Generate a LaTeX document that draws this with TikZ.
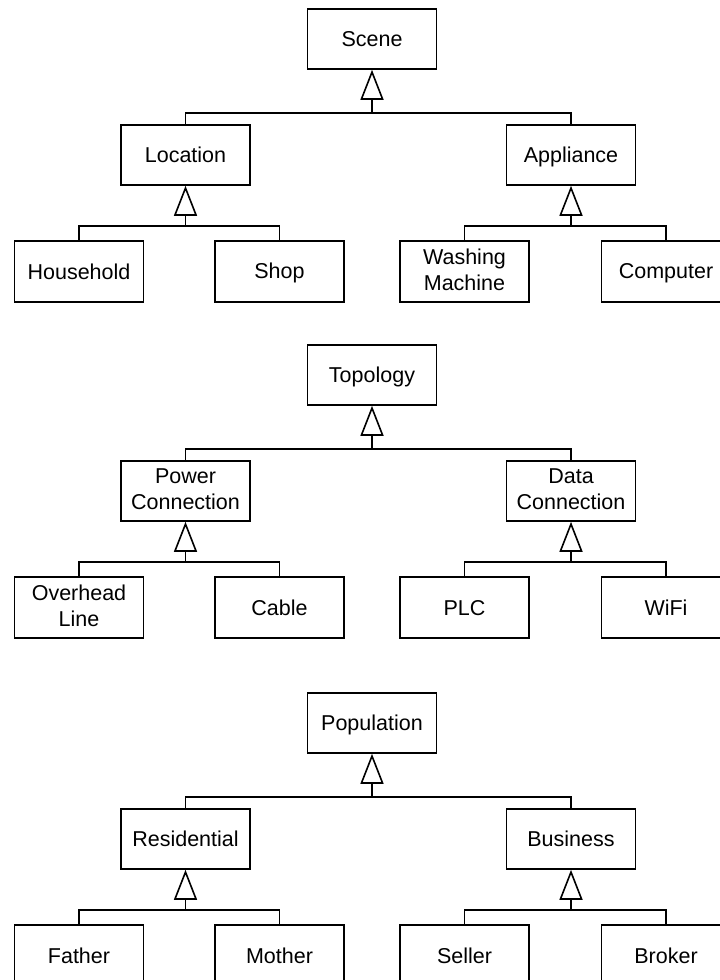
\documentclass[tikz,border=0pt]{standalone}
\usepackage{fontspec}
\setmainfont{Liberation Sans}
\usetikzlibrary{arrows.meta}

% invisible strut that centres capital letters vertically in a box
\newcommand{\capstrut}{\vrule height 19pt depth 3.6pt width 0pt\relax}

\tikzset{
  cls/.style={draw, line width=1.6pt, fill=white, minimum width=129pt,
    minimum height=60pt, inner sep=0pt, align=center,
    font=\fontsize{21.5}{26}\selectfont,
    execute at begin node=\capstrut, execute at end node=\capstrut},
  kid/.style={minimum height=61pt},
  link/.style={line width=1.6pt},
  gen/.style={link, -{Triangle[open, length=30pt, width=23pt]}}
}

% One generalisation tree: root, two parents, four leaves.
% #1 name prefix, #2 vertical offset, #3 root, #4-#5 parents, #6-#9 leaves
\newcommand{\gentree}[9]{%
  \begin{scope}[yshift=-#2pt]
    \node[cls] (#1-root) at (372,39) {#3};
    \node[cls] (#1-p1) at (185.5,155) {#4};
    \node[cls] (#1-p2) at (571,155) {#5};
    \node[cls,kid] (#1-c11) at (79,271.5) {#6};
    \node[cls,kid] (#1-c12) at (279.5,271.5) {#7};
    \node[cls,kid] (#1-c21) at (464.5,271.5) {#8};
    \node[cls,kid] (#1-c22) at (666,271.5) {#9};
    \coordinate (#1-j) at (372,113);
    \coordinate (#1-jl) at (185.5,226);
    \coordinate (#1-jr) at (571,226);
    \draw[link] (#1-p1.north) |- (#1-j) -| (#1-p2.north);
    \draw[gen] (#1-j) -- (#1-root.south);
    \draw[link] (#1-c11.north) |- (#1-jl) -| (#1-c12.north);
    \draw[gen] (#1-jl) -- (#1-p1.south);
    \draw[link] (#1-c21.north) |- (#1-jr) -| (#1-c22.north);
    \draw[gen] (#1-jr) -- (#1-p2.south);
  \end{scope}}

\begin{document}
\begin{tikzpicture}[x=1pt, y=-1pt]
  \useasboundingbox (0,0) rectangle (720,980);
  \clip (0,0) rectangle (720,980);
  \gentree{scn}{0}{Scene}{Location}{Appliance}{Household}{Shop}{Washing\\Machine}{Computer}
  \gentree{top}{336}{Topology}{Power\\Connection}{Data\\Connection}{Overhead\\Line}{Cable}{PLC}{WiFi}
  \gentree{pop}{684}{Population}{Residential}{Business}{Father}{Mother}{Seller}{Broker}
\end{tikzpicture}
\end{document}
